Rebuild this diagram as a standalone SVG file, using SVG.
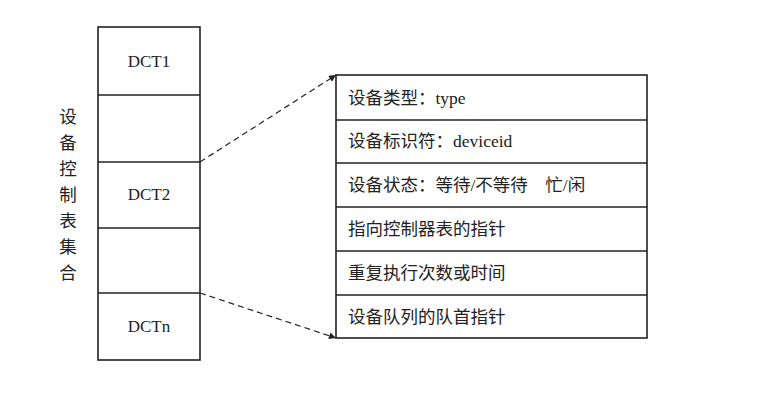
<svg xmlns="http://www.w3.org/2000/svg" width="770" height="418" viewBox="0 0 770 418">
<style>
.b{fill:#fff;stroke:#222;stroke-width:1.6}
.l{stroke:#222;stroke-width:1.4}
.t{font-family:"Liberation Serif","Noto Sans CJK SC",serif;font-size:17.5px;fill:#222}
.c{font-family:"Liberation Serif",serif;font-size:17px;fill:#222;text-anchor:middle}
.d{stroke:#222;stroke-width:1.2;stroke-dasharray:6 4;fill:none}
</style>
<defs><marker id="a" viewBox="0 0 10 10" refX="10" refY="5" markerWidth="9" markerHeight="7" orient="auto" markerUnits="userSpaceOnUse"><path d="M0,0L10,5L0,10z" fill="#222"/></marker></defs>
<rect width="770" height="418" fill="#fff"/>
<g id="dct-set">
<rect class="b" x="98" y="27" width="102" height="333"/>
<line class="l" x1="98" y1="95" x2="200" y2="95"/>
<line class="l" x1="98" y1="162" x2="200" y2="162"/>
<line class="l" x1="98" y1="228" x2="200" y2="228"/>
<line class="l" x1="98" y1="293" x2="200" y2="293"/>
<text class="c" x="149" y="67">DCT1</text>
<text class="c" x="149" y="200">DCT2</text>
<text class="c" x="149" y="332">DCTn</text>
</g>
<g id="label">
<text class="t" x="68" y="123" text-anchor="middle">设</text>
<text class="t" x="68" y="149" text-anchor="middle">备</text>
<text class="t" x="68" y="175" text-anchor="middle">控</text>
<text class="t" x="68" y="201" text-anchor="middle">制</text>
<text class="t" x="68" y="227" text-anchor="middle">表</text>
<text class="t" x="68" y="253" text-anchor="middle">集</text>
<text class="t" x="68" y="279" text-anchor="middle">合</text>
</g>
<g id="dct-detail">
<rect class="b" x="336" y="75" width="311" height="263"/>
<line class="l" x1="336" y1="120" x2="647" y2="120"/>
<line class="l" x1="336" y1="163" x2="647" y2="163"/>
<line class="l" x1="336" y1="207" x2="647" y2="207"/>
<line class="l" x1="336" y1="251" x2="647" y2="251"/>
<line class="l" x1="336" y1="295" x2="647" y2="295"/>
<text class="t" x="348" y="104">设备类型：type</text>
<text class="t" x="348" y="147">设备标识符：deviceid</text>
<text class="t" x="348" y="191">设备状态：等待/不等待　忙/闲</text>
<text class="t" x="348" y="235">指向控制器表的指针</text>
<text class="t" x="348" y="279">重复执行次数或时间</text>
<text class="t" x="348" y="323">设备队列的队首指针</text>
</g>
<g id="connectors">
<line class="d" x1="200" y1="162" x2="336" y2="75" marker-end="url(#a)"/>
<line class="d" x1="200" y1="293" x2="336" y2="338" marker-end="url(#a)"/>
</g>
</svg>
